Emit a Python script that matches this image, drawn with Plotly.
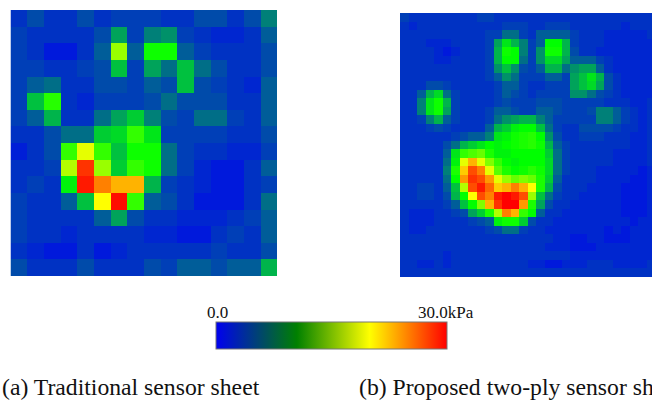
import plotly.graph_objects as go

left_grid = [
    [3,4,3,3,4,3,3.5,3.5,3.5,3,3,4,4,3,4,5.5],
    [3.5,3,3,3,3,4,6.5,3.5,5.5,6,3.5,3,2.5,2.5,3,4.5],
    [3.5,3,2,2,3,4.5,16,4.5,10.5,10.5,4.5,3.5,3,3,3,4],
    [3.5,3.5,3,3,3.5,4,7.5,3.5,6.5,5,7.5,5,4,3,3,4],
    [3.5,4.5,5,3,3,4,4,3.5,4.5,4,7.5,4,3.5,3,2.5,4.5],
    [3.5,7.5,11.5,3,2.5,3.5,3.5,3.5,4,5,4,4,4,3,3,4.5],
    [3.5,4.5,7,3,3,5,6.5,8,5.5,4,3.5,5,5,3.5,3,4.5],
    [3,3,4,5,5,8,8.5,12,9,3.5,3.5,3.5,3.5,3,3,4],
    [2.2,3,4,12,19,12,7.5,10.5,10.5,5,3.5,3,3,2.5,2.5,3.5],
    [3,3,3.5,17,28,16,8,12,10.5,5,3.5,2.5,2,2,3,4.5],
    [3,3.5,3,9.5,29,25,23,23,7,3.5,3,2.5,2,2,3,3.5],
    [3.5,3,3,4.5,7.5,20,29.5,12,4.5,4,3,2,2,2,3,5],
    [3.5,3,3,3,3,4.5,6.5,4,3,3,2.5,2.5,2.5,3,3.5,4.5],
    [3.5,3,3,2.5,3,3,3,3,2.5,2.5,2,2,3,3.5,3,4.5],
    [3,2.5,2,2,3,2,2.5,3,3,3,3,3,3.5,3,3,4],
    [4,3,3,3,4,3,3,3,4,3.5,4.5,4.5,4,4.5,4.5,7],
]

right_grid = [
    [3.5,3,3,3,3,3,3,3,3,3.5,3.5,3,3,3,3,3,3,3,3,3,3,3,3,3,3,3,3,3,3,3,3],
    [3,2.5,3,3,3,3,3,3,3,3,3,3,3.5,3.5,3.5,3,3,3.5,3.5,3.5,3,3,3,3,3,3,2.5,3,3,3,3],
    [3,3,3,3,3,3,3,3,3,3,3.5,3.5,5,5,3.5,3,4.5,4.5,4.5,4.5,3.5,3,3,3,2.5,2.5,2.5,2.5,2.5,3,3],
    [3,3,3,2.5,2.5,2.5,3,3,3,3,3.5,6.5,9,7,5.5,3.5,4.5,10,10,7,3.5,3,3,3,2.5,2.5,2.5,2.5,2.5,2.5,3],
    [3,3,3,3,2.5,2,2.5,3,3,3,3.5,7,10.5,10,5.5,3.5,6,10.5,10.5,7,4,3,3,2.5,2.5,2.5,2.5,2.5,2.5,2.5,3],
    [3,3,3,3,2.5,2.5,3,3,3,3,3.5,7,10,10,5,3.5,6,8.5,8.5,6.5,4.5,4.5,4.5,3.5,3,2.5,2.5,2.5,2.5,2.5,3],
    [3,3,3,3,3,3,3,3,3,3,3.5,6,7.5,6,4,3.5,4.5,7,7,5,6,6.5,6.5,4.5,3,2.5,2.5,2.5,2.5,2.5,3],
    [3,3,3,3,3,3,3,3,3,3,3.5,4.5,6,5,3.5,3.5,3.5,4.5,4.5,3.5,6.5,7.5,9,7,4,3,2.5,2.5,2.5,2.5,3],
    [3,3,3,4,4,3.5,3,3,3,3,3,3.5,4.5,4.5,3.5,3,3,3.5,3.5,3.5,6.5,7.5,8.5,6.5,4,3,2.5,2.5,2.5,2.5,3],
    [3,3,4.5,7,8.5,5,3.5,3,3,3,3,3.5,4.5,4,3.5,3,3.5,3.5,3.5,3.5,6,6,5,4,3.5,3,2.5,2.5,2.5,2.5,3],
    [3,3,5.5,9,10.5,7,3.5,3,3,3,3,3.5,4,3.5,3.5,3.5,4,4,4,3.5,3.5,3.5,3.5,3.5,3,3,3,2.5,2.5,3,3],
    [3,3,5.5,9,10.5,6.5,3.5,3,3,3,3.5,4.5,4.5,4,3.5,3.5,4.5,4.5,4,3.5,3.5,3.5,4,5.5,5.5,4.5,3.5,3,2.5,3,3],
    [3,3,3.5,5.5,7,4.5,3.5,3,3,3,3.5,5,6,6.5,7,7,5.5,4.5,3.5,3.5,3.5,3.5,3.5,5.5,5.5,4.5,3.5,3,2.5,3,3],
    [3,3,3,3.5,4,3.5,3,3,3,3,4.5,7,8,9.5,10,10,7.5,5,3.5,3,3,4,4,4,4,3.5,3,3,2.5,3,3],
    [3,3,3,3,3,3,3.5,4,4.5,4.5,5.5,9,9.5,10.5,11,11.5,10,6,4,3,3,3.5,3.5,3.5,3,3,3,2.5,2.5,3,3],
    [3,3,3,3,3,4,5,7,8,9,10,9.5,10,10.5,11,11.5,10.5,7,4.5,3.5,3,3,3,3,3,3,3,2.5,2.5,3,3],
    [3,3,3,3,3,4.5,9,12,13,14,11,9.5,9.5,10,10,10,10,8,5,3.5,3,3,3,3,3,2.5,2.5,2.5,2.5,3,3],
    [3,3,3,3,3,5,9.5,19,23,19,15,12,10,9.5,10,10,10,8.5,5,3.5,3,3,3,3,3,2.5,2.5,2.5,2.5,3,3],
    [3,3,3,3,3,5.5,11,22,27,25,19,13.5,11,10,10.5,11.5,10.5,8.5,5,3.5,3,3,3,2.5,2.5,2.5,2.5,2.5,2,2.5,3],
    [3,3,3,3,3,5,10,24,28,27,24,19,16,14,15,14,11,8,4.5,3,3,3,3,2.5,2.5,2.5,2.5,2,2,2.5,3],
    [3,3,3.5,3.5,3,4.5,7.5,17,27,29,26,22,23,25,23,20,11,7,4,3,3,3,2.5,2.5,2.5,2.5,2,2,2,2.5,3],
    [3,3,3.5,3.5,3,4,7,10,20,27,25,29,30,29,27,16,7.5,5,3.5,3,3,2.5,2.5,2.5,2.5,2.5,2,2,2,2.5,3],
    [3,3,3,3,3,3.5,4.5,7.5,10,15,23,28,30,30,24,11,6.5,4,3,3,2.5,2.5,2.5,2.5,2.5,2.5,2,2,2,2.5,3],
    [3,2.5,2.5,2.5,3,3,3.5,4,6.5,8,11,17,25,23,12,10,4.5,3,3,2.5,2.5,2.5,2.5,2.5,2.5,2.5,2,2,2,2.5,3],
    [3,2.5,2.5,2.5,3,3,3,3,3.5,4,4.5,9.5,10.5,10.5,8,4,3,3,2.5,2.5,2.5,2.5,2.5,2.5,2.5,2.5,2.5,2,2.5,2.5,3],
    [3,2.5,2.5,3,3,3,3,3,3,3,3.5,4,5,5,3.5,3,3,2.5,2.5,2.5,2.5,2.5,2.5,2.5,2,2.5,2,2.5,2.5,2.5,3],
    [3,3,3,3,3,3,3,3,3,3,3,3,3,3,3,3,3,3,2.5,2.5,2,2,2.5,2.5,2,2,2,2.5,2.5,2.5,3],
    [3,3,3,3,3,3,3,3,3,3,3,3,3,3,3,3,3,2.5,2.5,2.5,2,2,2,2.5,2.5,2.5,2.5,2.5,2.5,2.5,3],
    [3,3,3,3,3,2.5,3,3,3,3,3,3,3,3,3,3,3,3,3,3,2.5,2.5,2.5,2.5,2.5,2.5,2.5,2.5,2.5,2.5,3],
    [3,3,2.5,2.5,3,2.5,3,3,3,3,3,3,3,3,3,2.5,2.5,2,2,2.5,2.5,2.5,3,3,3,2.5,2.5,2.5,2.5,3,3],
    [3,3,3,3,3,3,3,3,3,3,3,3,3,3,3,3,3,3,3,3,3,3,3,3,3,3,3,3,3,3,3],
]

scale_min = 0.0
scale_max = 30.0
tick_labels = ["0.0", "30.0kPa"]
captions = ["(a) Traditional sensor sheet", "(b) Proposed two-ply sensor sheet"]

W, H = 652, 401
map_scale = [
    [0, "rgb(0,0,255)"], [2/30, "rgb(0,25,220)"], [3/30, "rgb(0,50,195)"], [4/30, "rgb(0,75,170)"],
    [5/30, "rgb(0,110,135)"], [7/30, "rgb(0,180,75)"], [10/30, "rgb(0,255,0)"],
    [20/30, "rgb(255,255,0)"], [1, "rgb(255,0,0)"],
]
bar_scale = [[0, "rgb(0,0,240)"], [0.35, "rgb(0,128,0)"], [0.665, "rgb(255,255,0)"], [1, "rgb(255,0,0)"]]

fig = go.Figure()
fig.add_trace(go.Heatmap(z=left_grid, coloraxis="coloraxis", xaxis="x", yaxis="y"))
fig.add_trace(go.Heatmap(z=right_grid, coloraxis="coloraxis", xaxis="x2", yaxis="y2"))
fig.add_trace(go.Scatter(x=[None], y=[None], mode="markers", xaxis="x", yaxis="y",
                         marker=dict(color=[scale_min, scale_max], coloraxis="coloraxis2"),
                         showlegend=False, hoverinfo="skip"))

hidden = dict(visible=False, showgrid=False, zeroline=False)
col_w = 264 / 31
text_color = "#111"


def note(text, px, py, size, anchor):
    return dict(text=text, x=px / W, y=1 - py / H, xref="paper", yref="paper", xanchor=anchor,
                yanchor="middle", showarrow=False,
                font=dict(family="Liberation Serif", size=size, color=text_color))


fig.update_layout(
    width=W, height=H, margin=dict(l=0, r=0, t=0, b=0),
    paper_bgcolor="white", plot_bgcolor="white", showlegend=False,
    font=dict(family="Liberation Serif", color=text_color),
    xaxis=dict(domain=[10.5 / W, 277 / W], range=[-0.5, 15.5], **hidden),
    yaxis=dict(domain=[1 - 276 / H, 1 - 10 / H], range=[15.5, -0.5], **hidden),
    xaxis2=dict(domain=[400 / W, 1], range=[-0.5, -0.5 + 252 / col_w], **hidden),
    yaxis2=dict(domain=[1 - 277 / H, 1 - 13 / H], range=[30.5, -0.5], **hidden),
    coloraxis=dict(colorscale=map_scale, cmin=scale_min, cmax=scale_max, showscale=False),
    coloraxis2=dict(
        colorscale=bar_scale, cmin=scale_min, cmax=scale_max, showscale=True,
        colorbar=dict(
            orientation="h", lenmode="pixels", len=231, thicknessmode="pixels", thickness=27,
            x=216 / W, xanchor="left", y=1 - 349.5 / H, yanchor="bottom", xpad=0, ypad=0,
            outlinecolor="#777", outlinewidth=1, borderwidth=0,
            showticklabels=False, ticks="",
        ),
    ),
    annotations=[
        note(tick_labels[0], 217, 312, 17, "center"),
        note(tick_labels[1], 445.5, 312, 17, "center"),
        note(captions[0], 0, 387, 23.7, "left"),
        note(captions[1], 356.5, 387, 23.7, "left"),
    ],
)

fig.write_html("out.html", config=dict(displayModeBar=False),
               post_script="document.body.style.margin='0';document.body.style.overflow='hidden';")
